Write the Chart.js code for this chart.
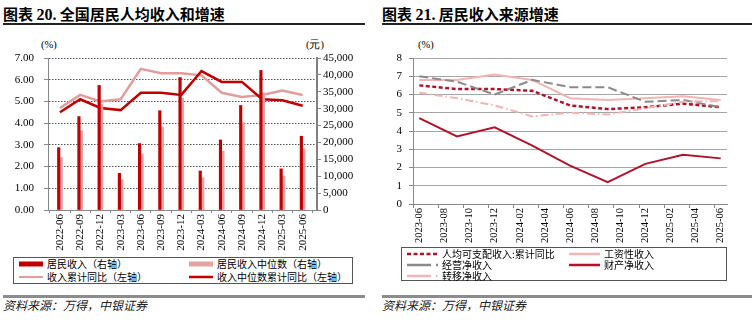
<!DOCTYPE html>
<html>
<head>
<meta charset="utf-8">
<script src="https://cdn.jsdelivr.net/npm/chart.js@4.4.1/dist/chart.umd.min.js"></script>
<style>
    body { margin: 0; width: 752px; height: 336px; background: #fff; position: relative; overflow: hidden;
        font-family: "Noto Sans CJK SC", sans-serif; color: #000; }
    .title { position: absolute; top: 4px; font-size: 15px; font-weight: bold; white-space: nowrap; line-height: 20px; }
    .title .num { font-family: "Liberation Serif", serif; font-size: 16px; }
    .rule { position: absolute; top: 23px; height: 1.5px; background: #222; }
    .foot { position: absolute; top: 295px; height: 2.5px; background: #8c8c8c; }
    .src { position: absolute; top: 297px; font-size: 12px; font-style: italic; line-height: 16px; color: #222; }
    canvas { position: absolute; top: 30px; }
    .unit { position: absolute; top: 39px; font-family: "Liberation Serif", serif; font-size: 10.5px; line-height: 12px; }
    .legend { position: absolute; border: 1px solid #555; box-sizing: border-box; font-size: 10px; }
    .item { position: absolute; display: flex; align-items: center; white-space: nowrap; line-height: 12px; height: 12px; }
    .item svg { margin-right: 4px; }
</style>
</head>
<body>
<div class="title" style="left:3px">图表 <span class="num">20.</span> 全国居民人均收入和增速</div>
<div class="rule" style="left:3px;width:362px"></div>
<div class="title" style="left:382px">图表 <span class="num">21.</span> 居民收入来源增速</div>
<div class="rule" style="left:382px;width:370px"></div>

<div class="unit" style="left:41px">(%)</div>
<div class="unit" style="left:306px">(元)</div>
<div class="unit" style="left:418px">(%)</div>

<canvas id="left" width="370" height="226" style="left:0"></canvas>
<canvas id="right" width="376" height="226" style="left:376px"></canvas>

<div class="legend" id="legendL" style="left:13px;top:257px;width:340px;height:27px"></div>
<div class="legend" id="legendR" style="left:401px;top:247px;width:326px;height:34px"></div>

<div class="foot" style="left:3px;width:362px"></div>
<div class="src" style="left:3px">资料来源：万得，中银证券</div>
<div class="foot" style="left:382px;width:370px"></div>
<div class="src" style="left:382px">资料来源：万得，中银证券</div>

<script>
// --- 图表20 数据 ---
const quartersL = ['2022-06', '2022-09', '2022-12', '2023-03', '2023-06', '2023-09', '2023-12',
    '2024-03', '2024-06', '2024-09', '2024-12', '2025-03', '2025-06'];
const incomeL = [18463, 27650, 36883, 10870, 19672, 29398, 39218, 11539, 20733, 30941, 41314, 12179, 21840];
const medianL = [15560, 23482, 31370, 9011, 16590, 24606, 33036, 9557, 17402, 25850, 34707, 10061, 18124];
const incomeGrowthL = [4.7, 5.3, 5.0, 5.1, 6.5, 6.3, 6.3, 6.2, 5.4, 5.2, 5.3, 5.5, 5.3];
const medianGrowthL = [4.5, 5.1, 4.7, 4.6, 5.4, 5.4, 5.3, 6.4, 5.9, 5.9, 5.1, 5.05, 4.8];

// --- 图表21 数据 ---
const monthsR = ['2023-06', '2023-07', '2023-08', '2023-09', '2023-10', '2023-11', '2023-12',
    '2024-01', '2024-02', '2024-03', '2024-04', '2024-05', '2024-06', '2024-07', '2024-08',
    '2024-09', '2024-10', '2024-11', '2024-12', '2025-01', '2025-02', '2025-03', '2025-04',
    '2025-05', '2025-06'];
const quartersR = ['2023-06', '2023-09', '2023-12', '2024-03', '2024-06', '2024-09', '2024-12', '2025-03', '2025-06'];
const disposableR = [6.5, 6.3, 6.3, 6.2, 5.4, 5.2, 5.3, 5.5, 5.3];
const wageR = [6.8, 6.8, 7.1, 6.8, 5.8, 5.7, 5.8, 5.9, 5.7];
const businessR = [7.0, 6.7, 6.0, 6.8, 6.4, 6.4, 5.6, 5.7, 5.3];
const propertyR = [4.7, 3.7, 4.2, 3.2, 2.1, 1.2, 2.2, 2.7, 2.5];
const transferR = [6.1, 5.8, 5.4, 4.8, 5.0, 4.9, 5.25, 5.6, 5.65];

Chart.defaults.font.family = '"Liberation Serif", "Times New Roman", serif';
Chart.defaults.font.size = 11;
Chart.defaults.color = '#000';

const RED_L = '#C00000';
const PINK_BAR = '#E4A3A3';
const PINK_LINE = '#E39C9C';
const RED_R = '#B0142C';
const PINK_R = '#F2B4B4';
const GRAY_R = '#8A8A8A';

function swatch(color, width, dash, len) {
    const d = dash ? ` stroke-dasharray="${dash.join(' ')}"` : '';
    return `<svg width="${len}" height="8"><line x1="0" y1="4" x2="${len}" y2="4" stroke="${color}" stroke-width="${width}"${d}/></svg>`;
}

function buildLegend(id, items) {
    const box = document.getElementById(id);
    items.forEach(it => {
        const el = document.createElement('div');
        el.className = 'item';
        el.style.left = it.x + 'px';
        el.style.top = it.y + 'px';
        el.innerHTML = swatch(it.color, it.width, it.dash, it.len) + '<span>' + it.label + '</span>';
        box.appendChild(el);
    });
}

// --- 图表20 ---
const xy = arr => arr.map((v, i) => ({ x: i, y: v }));

new Chart(document.getElementById('left'), {
    type: 'bar',
    data: {
        datasets: [{
            type: 'line', label: '收入累计同比（左轴）', data: xy(incomeGrowthL), yAxisID: 'y',
            borderColor: PINK_LINE, borderWidth: 2.5, pointRadius: 0, tension: 0, order: 3
        }, {
            type: 'line', label: '收入中位数累计同比（左轴）', data: xy(medianGrowthL), yAxisID: 'y',
            borderColor: RED_L, borderWidth: 2.5, pointRadius: 0, tension: 0, order: 2
        }, {
            label: '居民收入（右轴）', data: xy(incomeL), yAxisID: 'y1',
            backgroundColor: RED_L, barThickness: 2.5, order: 1
        }, {
            label: '居民收入中位数（右轴）', data: xy(medianL), yAxisID: 'y1',
            backgroundColor: PINK_BAR, barThickness: 2.5, order: 1
        }]
    },
    options: {
        responsive: false, animation: false, devicePixelRatio: 1,
        layout: { padding: { top: 28, left: 0, right: 0, bottom: 0 } },
        plugins: { legend: { display: false }, tooltip: { enabled: false } },
        scales: {
            x: {
                type: 'linear', min: -0.08, max: 12.2,
                afterBuildTicks: (s) => { s.ticks = quartersL.map((q, i) => ({ value: i })); },
                afterFit: (s) => { s.height = 46; },
                grid: { drawOnChartArea: false, tickLength: 3, tickColor: '#888' },
                border: { color: '#888' },
                ticks: { callback: (v) => quartersL[v], minRotation: 90, maxRotation: 90, padding: 1 }
            },
            y: {
                position: 'left', min: 0, max: 7,
                afterFit: (s) => { s.width = 48; },
                grid: { color: '#555', tickLength: 4, tickColor: '#888' },
                border: { color: '#888', dash: [1.5, 1.5] },
                ticks: { stepSize: 1, padding: 10, callback: (v) => v.toFixed(2) }
            },
            y1: {
                position: 'right', min: 0, max: 45000,
                afterFit: (s) => { s.width = 53; },
                grid: { drawOnChartArea: false, tickLength: 4, tickColor: '#888' },
                border: { color: '#808080', width: 2 },
                ticks: { stepSize: 5000, padding: 2, callback: (v) => v.toLocaleString('en-US') }
            }
        }
    }
});

buildLegend('legendL', [
    { label: '居民收入（右轴）', color: RED_L, width: 5, len: 24, x: 5, y: 0 },
    { label: '居民收入中位数（右轴）', color: PINK_BAR, width: 5, len: 24, x: 175, y: 0 },
    { label: '收入累计同比（左轴）', color: PINK_LINE, width: 2, len: 24, x: 5, y: 13 },
    { label: '收入中位数累计同比（左轴）', color: RED_L, width: 2.5, len: 24, x: 175, y: 13 }
]);

// --- 图表21 ---
const seriesR = [
    { label: '人均可支配收入:累计同比', values: disposableR, color: RED_R, width: 2.5, dash: [4, 2.5] },
    { label: '工资性收入', values: wageR, color: PINK_R, width: 2, dash: null },
    { label: '经营净收入', values: businessR, color: GRAY_R, width: 2, dash: [9, 4] },
    { label: '财产净收入', values: propertyR, color: RED_R, width: 2, dash: null },
    { label: '转移净收入', values: transferR, color: PINK_R, width: 2, dash: [8, 3, 1.5, 3] }
];

new Chart(document.getElementById('right'), {
    type: 'line',
    data: {
        labels: monthsR,
        datasets: seriesR.map((s, i) => ({
            label: s.label,
            data: quartersR.map((q, k) => ({ x: q, y: s.values[k] })),
            borderColor: s.color, borderWidth: s.width, borderDash: s.dash || [],
            pointRadius: 0, tension: 0, fill: false, order: seriesR.length - i
        }))
    },
    options: {
        responsive: false, animation: false, devicePixelRatio: 1,
        layout: { padding: { top: 28, left: 0, right: 25, bottom: 0 } },
        plugins: { legend: { display: false }, tooltip: { enabled: false } },
        scales: {
            x: {
                offset: true,
                afterFit: (s) => { s.height = 52; },
                grid: {
                    offset: true, drawOnChartArea: false, tickLength: 4,
                    tickColor: (c) => (c.index % 2 === 0 ? '#888' : 'rgba(0,0,0,0)')
                },
                border: { color: '#888' },
                ticks: {
                    autoSkip: false, minRotation: 90, maxRotation: 90, padding: 0, font: { size: 10.5 },
                    callback: (v, i) => (i % 2 === 0 ? monthsR[i] : '')
                }
            },
            y: {
                min: 0, max: 8,
                afterFit: (s) => { s.width = 37; },
                grid: { color: '#a6a6a6', tickLength: 4, tickColor: '#888' },
                border: { color: '#888' },
                ticks: { stepSize: 1, padding: 7 }
            }
        }
    }
});

buildLegend('legendR', [
    { label: seriesR[0].label, color: RED_R, width: 2.5, dash: [4, 2.5], len: 31, x: 5, y: 0 },
    { label: seriesR[1].label, color: PINK_R, width: 2.5, dash: null, len: 31, x: 167, y: 0 },
    { label: seriesR[2].label, color: GRAY_R, width: 2.5, dash: [24, 5], len: 31, x: 5, y: 11 },
    { label: seriesR[3].label, color: RED_R, width: 2.5, dash: null, len: 31, x: 167, y: 11 },
    { label: seriesR[4].label, color: PINK_R, width: 2.5, dash: [24, 5, 1.5, 5], len: 31, x: 5, y: 22 }
]);
</script>
</body>
</html>
